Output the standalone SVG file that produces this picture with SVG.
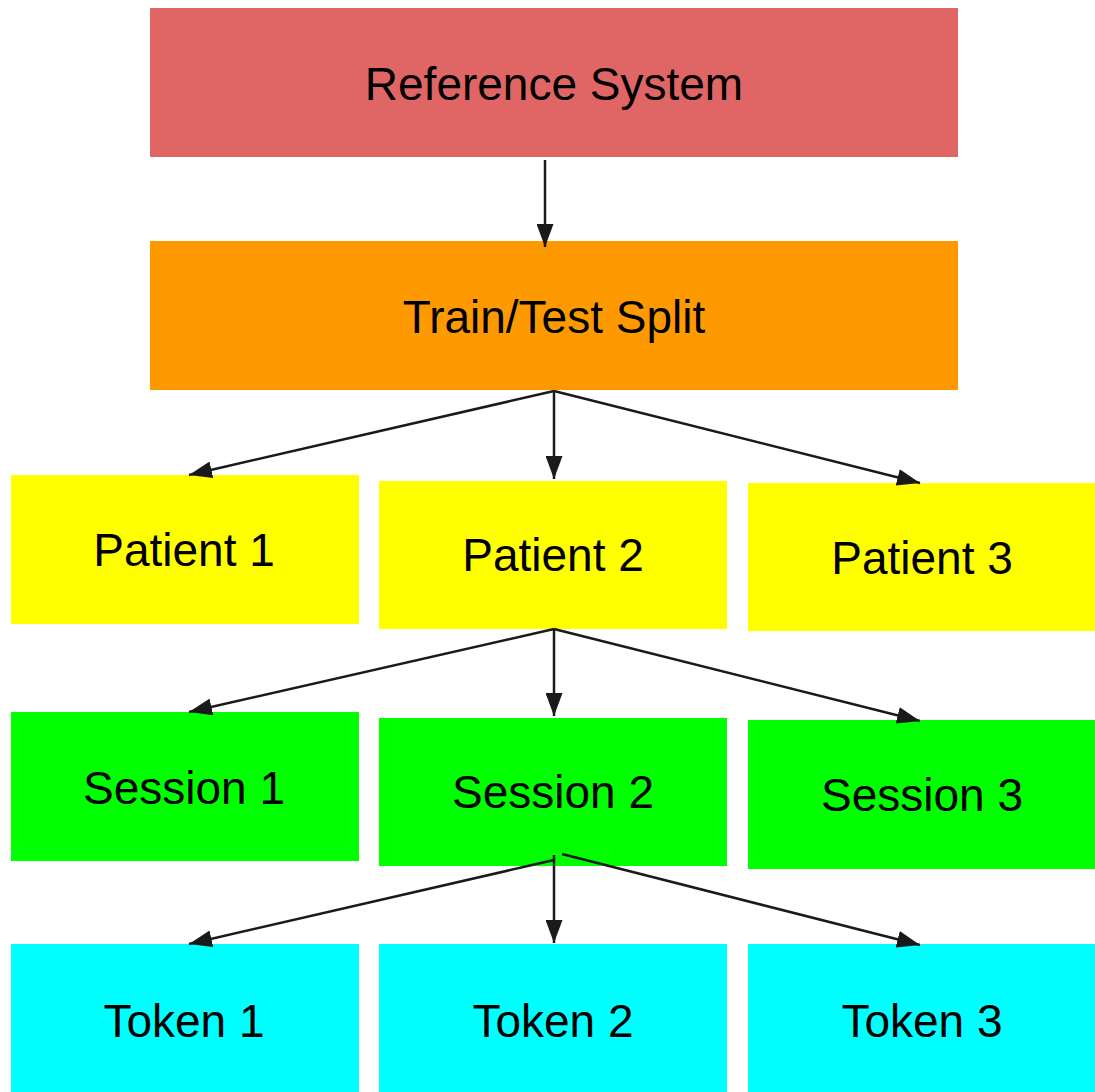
<svg xmlns="http://www.w3.org/2000/svg" width="1095" height="1092" viewBox="0 0 1095 1092">
  <style>
    .label { font-family: "Liberation Sans", Arial, sans-serif; font-size: 46px; fill: #000000; text-anchor: middle; }
    .edge { stroke: #1a1a1a; stroke-width: 2.5; fill: none; marker-end: url(#arrow); }
    .ref { fill: #e06666; }
    .split { fill: #ff9900; }
    .patient { fill: #ffff00; }
    .session { fill: #00ff00; }
    .token { fill: #00ffff; }
  </style>
  <defs>
    <marker id="arrow" markerUnits="userSpaceOnUse" markerWidth="23" markerHeight="17" refX="23" refY="8.5" orient="auto">
      <path d="M0,0 L23,8.5 L0,17 Z" fill="#1a1a1a"/>
    </marker>
  </defs>
  <rect width="1095" height="1092" fill="#ffffff"/>

  <!-- nodes -->
  <g id="reference-system">
    <rect class="ref" x="150" y="8" width="808" height="149"/>
    <text class="label" x="554" y="100">Reference System</text>
  </g>
  <g id="train-test-split">
    <rect class="split" x="150" y="241" width="808" height="149"/>
    <text class="label" x="554" y="333">Train/Test Split</text>
  </g>

  <g id="patient-1">
    <rect class="patient" x="11" y="475" width="348" height="149"/>
    <text class="label" x="184" y="566">Patient 1</text>
  </g>
  <g id="patient-2">
    <rect class="patient" x="379" y="481" width="348" height="148"/>
    <text class="label" x="553" y="571">Patient 2</text>
  </g>
  <g id="patient-3">
    <rect class="patient" x="748" y="483" width="347" height="148"/>
    <text class="label" x="922" y="574">Patient 3</text>
  </g>

  <g id="session-1">
    <rect class="session" x="11" y="712" width="348" height="149"/>
    <text class="label" x="184" y="804">Session 1</text>
  </g>
  <g id="session-2">
    <rect class="session" x="379" y="718" width="348" height="148"/>
    <text class="label" x="553" y="808">Session 2</text>
  </g>
  <g id="session-3">
    <rect class="session" x="748" y="720" width="347" height="149"/>
    <text class="label" x="922" y="811">Session 3</text>
  </g>

  <g id="token-1">
    <rect class="token" x="11" y="944" width="348" height="148"/>
    <text class="label" x="184" y="1037">Token 1</text>
  </g>
  <g id="token-2">
    <rect class="token" x="379" y="944" width="348" height="148"/>
    <text class="label" x="553" y="1037">Token 2</text>
  </g>
  <g id="token-3">
    <rect class="token" x="748" y="944" width="347" height="148"/>
    <text class="label" x="922" y="1037">Token 3</text>
  </g>

  <!-- connectors -->
  <g id="connectors">
    <line class="edge" x1="545" y1="160" x2="545" y2="247"/>

    <line class="edge" x1="554" y1="391" x2="189" y2="475"/>
    <line class="edge" x1="554" y1="391" x2="554" y2="479"/>
    <line class="edge" x1="554" y1="391" x2="920" y2="483"/>

    <line class="edge" x1="554" y1="629" x2="189" y2="712"/>
    <line class="edge" x1="554" y1="629" x2="554" y2="716"/>
    <line class="edge" x1="554" y1="629" x2="920" y2="721"/>

    <line class="edge" x1="554" y1="860" x2="189" y2="944"/>
    <line class="edge" x1="554" y1="855" x2="554" y2="943"/>
    <line class="edge" x1="562" y1="854" x2="920" y2="945"/>
  </g>
</svg>
